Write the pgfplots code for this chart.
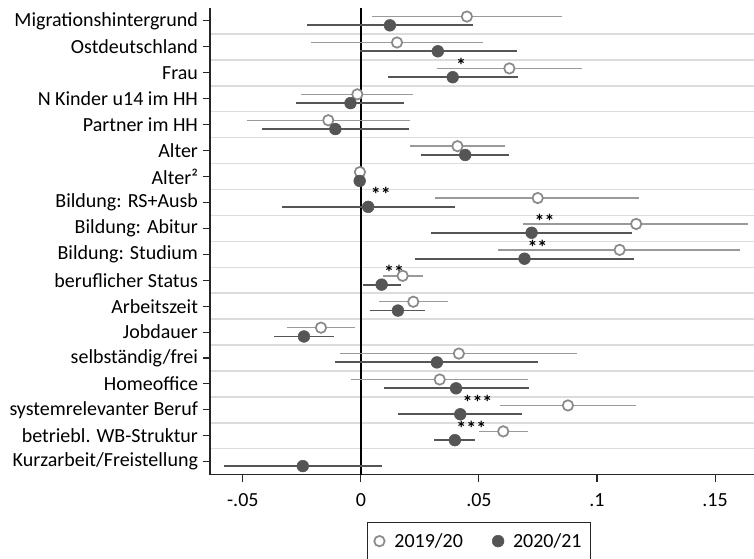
\documentclass[border=0pt]{standalone}
\usepackage{fontspec}
\setmainfont{Carlito}
\usepackage{pgfplots}
\usepackage{pgfplotstable}
\pgfplotsset{compat=1.18}
\definecolor{ciA}{HTML}{9A9A9A}
\definecolor{mkA}{HTML}{8A8A8A}
\definecolor{dk}{HTML}{555555}
\definecolor{gridc}{HTML}{DCDCDC}

\pgfplotstableread{
y est lo hi
-0.17 0.0449 0.0048 0.0850
0.83 0.0153 -0.0210 0.0517
1.83 0.0629 0.0322 0.0936
2.83 -0.0015 -0.0252 0.0222
3.83 -0.0138 -0.0482 0.0208
4.83 0.0409 0.0209 0.0609
5.83 -0.0004 -0.0007 -0.0001
6.83 0.0749 0.0316 0.1178
7.83 0.1166 0.0686 0.1640
8.83 0.1096 0.0581 0.1607
9.83 0.0177 0.0093 0.0265
10.83 0.0222 0.0078 0.0367
11.83 -0.0169 -0.0313 -0.0026
12.83 0.0415 -0.0087 0.0915
13.83 0.0334 -0.0040 0.0707
14.83 0.0877 0.0588 0.1166
15.83 0.0603 0.0502 0.0707
}\tabA

\pgfplotstableread{
y est lo hi
0.17 0.0123 -0.0229 0.0475
1.17 0.0326 -0.0004 0.0660
2.17 0.0389 0.0114 0.0666
3.17 -0.0044 -0.0273 0.0184
4.17 -0.0108 -0.0418 0.0205
5.17 0.0442 0.0254 0.0629
6.17 -0.0005 -0.0008 -0.0002
7.17 0.0031 -0.0334 0.0397
8.17 0.0723 0.0296 0.1147
9.17 0.0693 0.0229 0.1157
10.17 0.0088 0.0009 0.0169
11.17 0.0157 0.0040 0.0272
12.17 -0.0241 -0.0367 -0.0114
13.17 0.0322 -0.0108 0.0749
14.17 0.0403 0.0096 0.0710
15.17 0.0421 0.0157 0.0684
16.17 0.0398 0.0310 0.0485
17.17 -0.0246 -0.0581 0.0091
}\tabB

\pgfplotstableread{
x y s
0.0424 1.54 *
0.0085 6.52 **
0.0778 7.55 **
0.0748 8.55 **
0.0141 9.51 **
0.0494 14.53 ***
0.0468 15.52 ***
}\tabS

\begin{document}
\begin{tikzpicture}
\path[use as bounding box, clip] (-157.5pt,-63.2pt) rectangle (408pt,356pt);
\begin{axis}[
  at={(0,0)}, anchor=south west, scale only axis,
  width=408pt, height=350pt,
  xmin=-0.0639, xmax=0.1665, ymin=-0.5, ymax=17.5, y dir=reverse,
  enlargelimits=false,
  axis x line*=bottom, axis y line*=left,
  axis line style={-, draw=black!85, line width=0.9pt},
  tick align=outside, major tick length=5.5pt,
  tick style={draw=black!85, line width=0.8pt},
  xtick={-0.05,0,0.05,0.1,0.15},
  xticklabels={-.05,0,.05,.1,.15},
  ytick={0,...,17},
  yticklabels={Migrationshintergrund,Ostdeutschland,Frau,N Kinder u14 im HH,Partner im HH,Alter,Alter²,Bildung: RS+Ausb,Bildung: Abitur,Bildung: Studium,beruflicher Status,Arbeitszeit,Jobdauer,selbständig/frei,Homeoffice,systemrelevanter Beruf,betriebl. WB-Struktur,Kurzarbeit/Freistellung},
  minor ytick={0.5,1.5,...,16.5},
  yminorgrids=true,
  minor grid style={draw=gridc, line width=1.1pt},
  minor tick length=0pt,
  ticklabel style={font=\fontsize{15}{18}\selectfont},
  xticklabel style={yshift=-5pt},
  legend columns=2,
  legend style={at={(0,0)}, anchor=north west, xshift=117.5pt, yshift=-35.5pt,
    draw=black!85, line width=0.8pt, inner xsep=4.8pt, inner ysep=6pt,
    font=\fontsize{15}{18}\selectfont,
    /tikz/every odd column/.append style={column sep=4.8pt},
    /tikz/every even column/.append style={column sep=20pt}},
  legend image code/.code={\path (-4pt,0pt) (4pt,0pt); \draw[#1] plot coordinates {(0pt,0pt)};},
]
\addplot[black, line width=1pt, forget plot] coordinates {(0,-0.5) (0,17.5)};

\addplot[only marks, mark=*, mark size=3.9pt,
  mark options={draw=mkA, fill=white, line width=1.3pt},
  error bars/.cd, x dir=both, x explicit, error mark=none,
  error bar style={draw=ciA, line width=1.1pt}]
  table[x=est, y=y, x error plus expr=\thisrow{hi}-\thisrow{est}, x error minus expr=\thisrow{est}-\thisrow{lo}] {\tabA};
\addlegendentry{2019/20}

\addplot[only marks, mark=*, mark size=4.4pt,
  mark options={draw=dk, fill=dk, line width=0.4pt},
  error bars/.cd, x dir=both, x explicit, error mark=none,
  error bar style={draw=dk, line width=1.4pt}]
  table[x=est, y=y, x error plus expr=\thisrow{hi}-\thisrow{est}, x error minus expr=\thisrow{est}-\thisrow{lo}] {\tabB};
\addlegendentry{2020/21}

\addplot[only marks, mark=none, forget plot, nodes near coords, point meta=explicit symbolic,
  nodes near coords style={anchor=base, yshift=-9pt, inner sep=0pt, font=\fontsize{15}{18}\selectfont\bfseries}]
  table[x=x, y=y, meta=s] {\tabS};
\end{axis}
\end{tikzpicture}
\end{document}
